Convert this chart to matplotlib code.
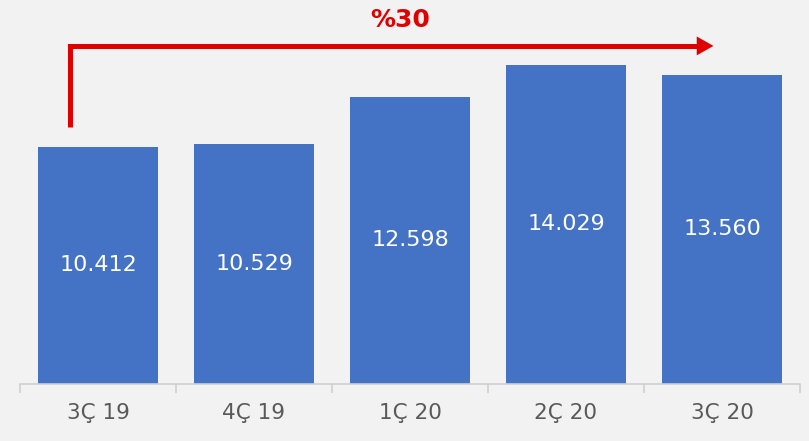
import numpy as np
import matplotlib
matplotlib.use("Agg")
import matplotlib.pyplot as plt

# data
quarters = ["3Ç 19", "4Ç 19", "1Ç 20", "2Ç 20", "3Ç 20"]
values = [10412, 10529, 12598, 14029, 13560]
value_labels = ["10.412", "10.529", "12.598", "14.029", "13.560"]

bg = "#F2F2F2"
blue = "#4472C4"
red = "#DF0000"
grey = "#595959"

fig = plt.figure(figsize=(8.09, 4.41), dpi=100, facecolor=bg)
ax = fig.add_axes([20 / 809, 57.5 / 441, 780 / 809, 383.5 / 441])
ax.set_facecolor(bg)

x = np.arange(len(quarters))
bars = ax.bar(x, values, width=0.77, color=blue, zorder=2)

for xi, v, lab in zip(x, values, value_labels):
    ax.text(xi, v / 2, lab, ha="center", va="center", color="white", fontsize=16)

ax.set_xlim(-0.5, len(quarters) - 0.5)
ax.set_ylim(0, 16870)

# axis styling
for s in ["top", "right", "left"]:
    ax.spines[s].set_visible(False)
ax.spines["bottom"].set_color("#D0D0D0")
ax.spines["bottom"].set_linewidth(1.2)
ax.set_yticks([])
ax.set_xticks(x)
ax.set_xticklabels(quarters, fontsize=15.5, color=grey)
ax.tick_params(axis="x", which="major", length=0, pad=14)
ax.set_xticks(np.arange(-0.5, len(quarters)), minor=True)
ax.tick_params(axis="x", which="minor", length=6.5, width=1.2, color="#D0D0D0")

# growth arrow from first to last quarter
growth = round((values[-1] / values[0] - 1) * 100)
x0, xb, x1 = -0.18, 3.85, 3.945
y0, y1 = 11300, 14850
ax.plot([x0, x0, xb], [y0, y1, y1], color=red, lw=3.6,
        solid_joinstyle="miter", solid_capstyle="butt", zorder=3, clip_on=False)
ax.annotate("", xy=(x1, y1), xytext=(xb - 0.05, y1),
            arrowprops=dict(arrowstyle="-|>,head_length=0.6,head_width=0.34",
                            color=red, lw=0.01, mutation_scale=20,
                            shrinkA=0, shrinkB=0),
            zorder=3, annotation_clip=False)
ax.text(1.94, 16000, f"%{growth}", ha="center", va="center", color=red,
        fontsize=18, fontweight="bold")

fig.savefig("out.png", dpi=100, facecolor=bg)
